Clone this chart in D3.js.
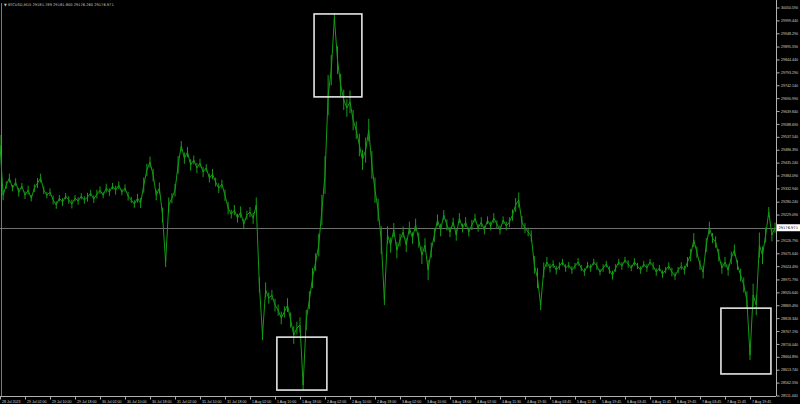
<!DOCTYPE html>
<html>
<head>
<meta charset="utf-8">
<script src="https://cdn.jsdelivr.net/npm/d3@7"></script>
<style>
  html, body { margin: 0; padding: 0; background: #000; }
  #plot { width: 800px; height: 404px; }
</style>
</head>
<body>
<div id="plot"></div>
<script>
// BTCUSD M15, one close per hour (every 4th bar)
const closes = [
  29505, 29306, 29346, 29374, 29334, 29358, 29318, 29342, 29306, 29326,
  29294, 29334, 29354, 29374, 29326, 29306, 29318, 29287, 29267, 29294,
  29279, 29302, 29287, 29271, 29294, 29283, 29302, 29287, 29298, 29314,
  29290, 29310, 29326, 29306, 29334, 29318, 29342, 29326, 29346, 29318,
  29334, 29302, 29287, 29271, 29294, 29275, 29346, 29406, 29437, 29386,
  29306, 29334, 29227, 29041, 29267, 29294, 29326, 29426, 29501, 29453,
  29477, 29426, 29446, 29414, 29433, 29398, 29414, 29374, 29390, 29358,
  29334, 29350, 29306, 29255, 29231, 29247, 29215, 29239, 29191, 29227,
  29239, 29215, 29267, 28950, 28751, 28930, 28898, 28910, 28870, 28850,
  28819, 28843, 28870, 28811, 28751, 28779, 28791, 28553, 28811, 28890,
  28977, 29041, 29108, 29247, 29386, 29703, 29802, 30009, 29842, 29743,
  29684, 29652, 29676, 29604, 29564, 29505, 29446, 29485, 29564, 29426,
  29326, 29247, 29128, 28890, 29148, 29108, 29168, 29088, 29128, 29160,
  29108, 29176, 29136, 29188, 29128, 29068, 29108, 29009, 29088, 29148,
  29207, 29168, 29227, 29188, 29160, 29199, 29148, 29215, 29176, 29199,
  29160, 29188, 29215, 29176, 29199, 29168, 29207, 29184, 29215, 29191,
  29168, 29207, 29184, 29199, 29227, 29267, 29287, 29199, 29176, 29160,
  29144, 29029, 28977, 28870, 29009, 29041, 29017, 29033, 29009, 29025,
  29041, 29017, 29029, 29009, 29025, 29041, 29017, 29001, 29029, 29017,
  29041, 29025, 29001, 29017, 29033, 29009, 28989, 29017, 29041, 29025,
  29049, 29033, 29017, 29041, 29025, 29009, 29033, 29017, 29041, 29025,
  29001, 29017, 28993, 29009, 29025, 29001, 28985, 29009, 29025, 29009,
  29041, 29068, 29128, 29080, 29029, 29001, 29108, 29176, 29136, 29120,
  29068, 29017, 29041, 29009, 29057, 29088, 29029, 28989, 28950, 28890,
  28672, 28910, 28870, 29108, 29068, 29148, 29239, 29148, 29176.971
];

// hourly high-low span (price units) around each close
const ranges = [
  80, 40, 30, 35, 25, 30, 35, 25, 30, 35,
  25, 30, 40, 35, 30, 25, 30, 35, 30, 25,
  30, 25, 30, 35, 25, 30, 25, 30, 35, 25,
  30, 35, 30, 25, 35, 30, 25, 35, 30, 25,
  30, 35, 25, 30, 35, 40, 60, 50, 45, 50,
  40, 45, 60, 40, 60, 40, 50, 70, 40, 45,
  40, 45, 35, 40, 35, 40, 30, 35, 40, 35,
  40, 35, 45, 50, 35, 40, 35, 45, 40, 35,
  40, 45, 60, 60, 40, 60, 45, 40, 50, 45,
  50, 45, 55, 60, 70, 50, 60, 40, 80, 70,
  80, 70, 90, 120, 150, 160, 120, 40, 110, 90,
  80, 70, 90, 80, 70, 90, 80, 100, 90, 110,
  100, 90, 110, 40, 70, 60, 55, 65, 50, 45,
  55, 50, 45, 50, 60, 70, 55, 80, 60, 55,
  45, 50, 40, 45, 40, 35, 45, 40, 35, 40,
  35, 40, 35, 30, 40, 35, 30, 35, 40, 30,
  35, 30, 35, 40, 45, 55, 60, 50, 40, 35,
  45, 70, 80, 40, 60, 40, 35, 30, 35, 30,
  25, 30, 25, 30, 25, 30, 25, 30, 25, 30,
  25, 30, 25, 30, 25, 30, 35, 30, 25, 30,
  25, 30, 25, 30, 25, 30, 25, 30, 25, 30,
  30, 25, 30, 25, 30, 35, 30, 25, 30, 35,
  40, 50, 55, 45, 40, 50, 55, 50, 40, 45,
  50, 45, 40, 45, 50, 45, 40, 50, 60, 70,
  40, 90, 80, 100, 70, 60, 40, 50, 40
];

const lastPrice = 29176.971;
const titleText = "▼ BTCUSD,M15  29181.789 29181.800 29176.260 29176.971";

// price scale labels as printed by the terminal (29177.940 sits under the price tag)
const priceTicks = [
  30050.590, 29999.440, 29948.290, 29895.590, 29844.440, 29793.290,
  29742.140, 29690.990, 29639.840, 29588.690, 29537.540, 29486.390,
  29435.240, 29384.090, 29332.940, 29280.240, 29229.090,
  29126.790, 29075.640, 29024.490, 28971.790, 28920.640, 28869.490,
  28818.340, 28767.190, 28716.040, 28664.890, 28613.740, 28562.590,
  28511.440
];

// time labels, one every 8 hourly points
const timeLabels = [
  "28 Jul 2023", "29 Jul 02:00", "29 Jul 10:00", "29 Jul 18:00",
  "30 Jul 02:00", "30 Jul 10:00", "30 Jul 18:00", "31 Jul 02:00",
  "31 Jul 10:00", "31 Jul 18:00", "1 Aug 02:00", "1 Aug 10:00",
  "1 Aug 18:00", "2 Aug 02:00", "2 Aug 10:00", "2 Aug 18:00",
  "3 Aug 02:00", "3 Aug 10:00", "3 Aug 18:00", "4 Aug 02:00",
  "4 Aug 11:30", "4 Aug 19:30", "5 Aug 03:45", "5 Aug 11:45",
  "5 Aug 19:45", "6 Aug 03:45", "6 Aug 11:45", "6 Aug 19:45",
  "7 Aug 03:45", "7 Aug 11:45", "7 Aug 19:45"
];

// highlight boxes: [from index, to index, high price, low price]
const boxes = [
  [100.5, 115.8, 30025, 29696],
  [88.6, 104.6, 28743, 28533],
  [230.7, 246.7, 28858, 28597]
];

const width = 800;
const height = 404;
const plotRight = 776;
const plotBottom = 396;
const labelStep = 8;
const fontSize = "3.6px";
const green = "#149c14";

const x = d3.scaleLinear()
  .domain([0, closes.length - 1])
  .range([0, 775]);

const y = d3.scaleLinear()
  .domain([28511.44, 30050.59])
  .range([395.5, 7.5]);

const svg = d3.select("#plot")
  .append("svg")
  .attr("width", width)
  .attr("height", height)
  .style("background", "#000")
  .style("font-family", "'DejaVu Sans', sans-serif");

// left edge line
svg.append("line")
  .attr("x1", 1.5).attr("x2", 1.5)
  .attr("y1", 3).attr("y2", plotBottom)
  .attr("stroke", "#7a7a7a")
  .attr("stroke-width", 1);

// current price line
svg.append("line")
  .attr("x1", 0).attr("x2", plotRight)
  .attr("y1", Math.round(y(lastPrice)) + 0.5)
  .attr("y2", Math.round(y(lastPrice)) + 0.5)
  .attr("stroke", "#8c8c8c")
  .attr("stroke-width", 0.8);

// hourly high-low ticks
svg.selectAll("line.hl")
  .data(closes)
  .enter()
  .append("line")
  .attr("class", "hl")
  .attr("x1", (d, i) => x(i))
  .attr("x2", (d, i) => x(i))
  .attr("y1", (d, i) => y(d + ranges[i] / 2))
  .attr("y2", (d, i) => y(d - ranges[i] / 2))
  .attr("stroke", green)
  .attr("stroke-width", 1);

// price line
const line = d3.line()
  .x((d, i) => x(i))
  .y(d => y(d));

svg.append("path")
  .datum(closes)
  .attr("d", line)
  .attr("fill", "none")
  .attr("stroke", green)
  .attr("stroke-width", 1);

// highlight boxes
svg.selectAll("rect.box")
  .data(boxes)
  .enter()
  .append("rect")
  .attr("class", "box")
  .attr("x", d => x(d[0]))
  .attr("y", d => y(d[2]))
  .attr("width", d => x(d[1]) - x(d[0]))
  .attr("height", d => y(d[3]) - y(d[2]))
  .attr("fill", "none")
  .attr("stroke", "#e6e6e6")
  .attr("stroke-width", 1.6);

// right price axis
const yAxis = d3.axisRight(y)
  .tickValues(priceTicks)
  .tickSize(3)
  .tickPadding(1.5)
  .tickFormat(d3.format(".3f"));

const gy = svg.append("g")
  .attr("transform", `translate(${plotRight + 0.5},0)`)
  .call(yAxis);
gy.select(".domain").attr("stroke", "#b0b0b0").attr("d", `M0,0V${plotBottom}`);
gy.selectAll(".tick line").attr("stroke", "#b0b0b0");
gy.selectAll(".tick text")
  .attr("fill", "#d0d0d0")
  .style("font-size", fontSize);

// bottom time axis
const xAxis = d3.axisBottom(x)
  .tickValues(timeLabels.map((t, i) => i * labelStep))
  .tickSize(3)
  .tickPadding(0.5)
  .tickFormat((d, i) => timeLabels[i]);

const gx = svg.append("g")
  .attr("transform", `translate(0,${plotBottom + 0.5})`)
  .call(xAxis);
gx.select(".domain").attr("stroke", "#b0b0b0").attr("d", `M0,0H${plotRight}`);
gx.selectAll(".tick line").attr("stroke", "#b0b0b0");
gx.selectAll(".tick text")
  .attr("fill", "#d0d0d0")
  .attr("text-anchor", "start")
  .attr("dx", 1.5)
  .style("font-size", fontSize);

// current price tag
const tagY = y(lastPrice);
svg.append("rect")
  .attr("x", plotRight + 1)
  .attr("y", tagY - 3.5)
  .attr("width", 23)
  .attr("height", 7)
  .attr("fill", "#ffffff");
svg.append("text")
  .attr("x", plotRight + 2.5)
  .attr("y", tagY + 1.3)
  .attr("fill", "#000")
  .style("font-size", fontSize)
  .text(d3.format(".3f")(lastPrice));

// symbol caption
svg.append("text")
  .attr("x", 4)
  .attr("y", 6)
  .attr("fill", "#c8c8c8")
  .style("font-size", fontSize)
  .text(titleText);
</script>
</body>
</html>
